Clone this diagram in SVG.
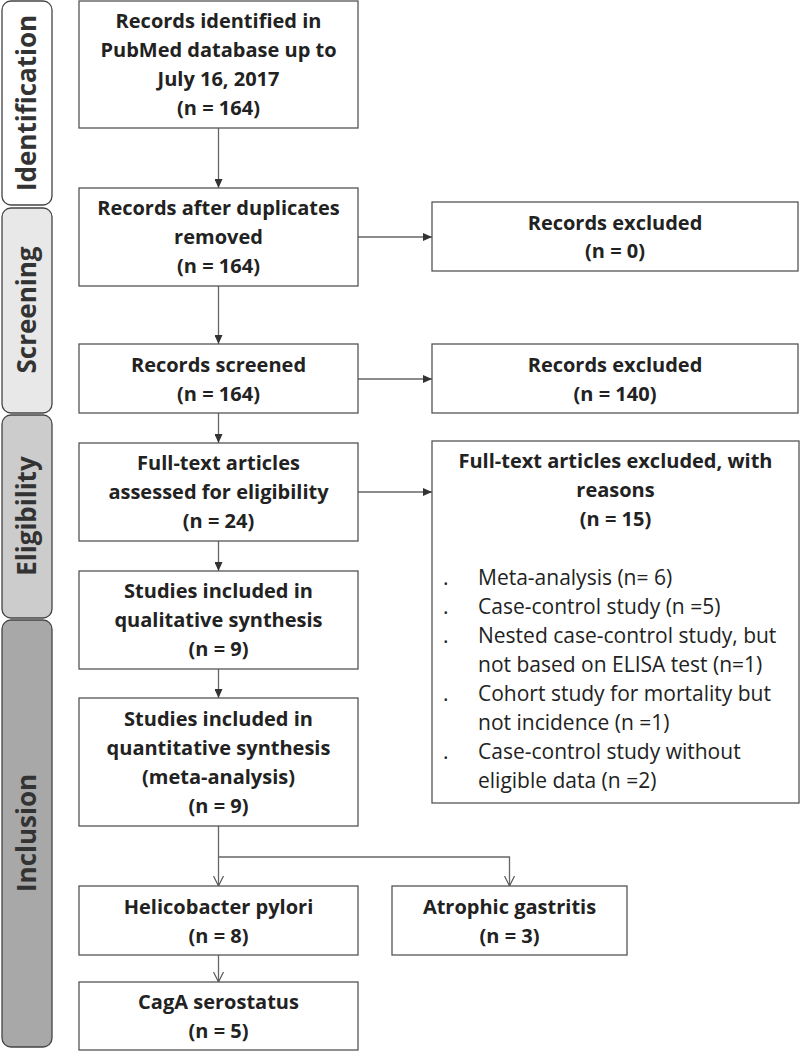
<svg xmlns="http://www.w3.org/2000/svg" width="800" height="1051" viewBox="0 0 800 1051">
<style>
.box{fill:#fff;stroke:#555;stroke-width:1.3}
.t{font-family:"Open Sans","Liberation Sans",sans-serif;font-weight:bold;font-size:20px;fill:#222;text-anchor:middle}
.r{font-family:"Open Sans","Liberation Sans",sans-serif;font-size:21px;fill:#222}
.side{stroke:#444;stroke-width:1.3}
.st{font-family:"Open Sans","Liberation Sans",sans-serif;font-weight:bold;font-size:26px;fill:#333;text-anchor:middle}
.ln{fill:none;stroke:#666;stroke-width:1.3}
</style>
<defs>
<marker id="af" markerWidth="10" markerHeight="8" refX="9" refY="4" orient="auto" markerUnits="userSpaceOnUse"><path d="M0,0 L9,4 L0,8 z" fill="#333"/></marker>
<marker id="ao" markerWidth="12" markerHeight="12" refX="10" refY="6" orient="auto" markerUnits="userSpaceOnUse"><path d="M0,1 L10,6 L0,11" fill="none" stroke="#555" stroke-width="1.2"/></marker>
</defs>
<rect width="800" height="1051" fill="#fff"/>

<g id="side-identification"><rect class="side" x="2" y="1" width="50" height="204" rx="9" fill="#ffffff"/><text class="st" transform="translate(36,103) rotate(-90)">Identification</text></g>
<g id="side-screening"><rect class="side" x="2" y="208" width="50" height="205" rx="9" fill="#e8e8e8"/><text class="st" transform="translate(36,310) rotate(-90)">Screening</text></g>
<g id="side-eligibility"><rect class="side" x="2" y="415" width="50" height="203" rx="9" fill="#cccccc"/><text class="st" transform="translate(36,516) rotate(-90)">Eligibility</text></g>
<g id="side-inclusion"><rect class="side" x="2" y="620" width="50" height="427" rx="9" fill="#a8a8a8"/><text class="st" transform="translate(36,833) rotate(-90)">Inclusion</text></g>

<g id="connectors">
<line class="ln" x1="218.5" y1="128" x2="218.5" y2="188" marker-end="url(#af)"/>
<line class="ln" x1="358" y1="237" x2="432" y2="237" marker-end="url(#af)"/>
<line class="ln" x1="218.5" y1="286" x2="218.5" y2="344" marker-end="url(#af)"/>
<line class="ln" x1="358" y1="379" x2="432" y2="379" marker-end="url(#af)"/>
<line class="ln" x1="218.5" y1="413" x2="218.5" y2="443" marker-end="url(#af)"/>
<line class="ln" x1="358" y1="492" x2="432" y2="492" marker-end="url(#af)"/>
<line class="ln" x1="218.5" y1="541" x2="218.5" y2="571" marker-end="url(#af)"/>
<line class="ln" x1="218.5" y1="669" x2="218.5" y2="698" marker-end="url(#af)"/>
<line class="ln" x1="218.5" y1="826" x2="218.5" y2="886" marker-end="url(#ao)"/>
<polyline class="ln" points="218.5,857 509.5,857 509.5,886" marker-end="url(#ao)"/>
<line class="ln" x1="218.5" y1="955" x2="218.5" y2="982" marker-end="url(#ao)"/>
</g>

<g id="n1"><rect class="box" x="79" y="1" width="279" height="127"/>
<text class="t" x="218.5" y="28">Records identified in</text>
<text class="t" x="218.5" y="57">PubMed database up to</text>
<text class="t" x="218.5" y="86">July 16, 2017</text>
<text class="t" x="218.5" y="115">(n = 164)</text></g>

<g id="n2"><rect class="box" x="79" y="188" width="279" height="98"/>
<text class="t" x="218.5" y="215">Records after duplicates</text>
<text class="t" x="218.5" y="244">removed</text>
<text class="t" x="218.5" y="273">(n = 164)</text></g>

<g id="x1"><rect class="box" x="432" y="202" width="366" height="69"/>
<text class="t" x="615" y="230">Records excluded</text>
<text class="t" x="615" y="258">(n = 0)</text></g>

<g id="n3"><rect class="box" x="79" y="344" width="279" height="69"/>
<text class="t" x="218.5" y="372">Records screened</text>
<text class="t" x="218.5" y="401">(n = 164)</text></g>

<g id="x2"><rect class="box" x="432" y="344" width="366" height="69"/>
<text class="t" x="615" y="372">Records excluded</text>
<text class="t" x="615" y="401">(n = 140)</text></g>

<g id="n4"><rect class="box" x="79" y="443" width="279" height="98"/>
<text class="t" x="218.5" y="470">Full-text articles</text>
<text class="t" x="218.5" y="499">assessed for eligibility</text>
<text class="t" x="218.5" y="528">(n = 24)</text></g>

<g id="x3"><rect class="box" x="432" y="441" width="367" height="362"/>
<text class="t" x="615.5" y="468">Full-text articles excluded, with</text>
<text class="t" x="615.5" y="497">reasons</text>
<text class="t" x="615.5" y="526">(n = 15)</text>
<g class="r">
<text x="443" y="585">.</text><text x="478" y="585">Meta-analysis (n= 6)</text>
<text x="443" y="614">.</text><text x="478" y="614">Case-control study (n =5)</text>
<text x="443" y="643">.</text><text x="478" y="643">Nested case-control study, but</text>
<text x="478" y="672">not based on ELISA test (n=1)</text>
<text x="443" y="701">.</text><text x="478" y="701">Cohort study for mortality but</text>
<text x="478" y="730">not incidence (n =1)</text>
<text x="443" y="759">.</text><text x="478" y="759">Case-control study without</text>
<text x="478" y="788">eligible data (n =2)</text>
</g></g>

<g id="n5"><rect class="box" x="79" y="571" width="279" height="98"/>
<text class="t" x="218.5" y="598">Studies included in</text>
<text class="t" x="218.5" y="627">qualitative synthesis</text>
<text class="t" x="218.5" y="656">(n = 9)</text></g>

<g id="n6"><rect class="box" x="79" y="698" width="279" height="128"/>
<text class="t" x="218.5" y="726">Studies included in</text>
<text class="t" x="218.5" y="755">quantitative synthesis</text>
<text class="t" x="218.5" y="784">(meta-analysis)</text>
<text class="t" x="218.5" y="813">(n = 9)</text></g>

<g id="n7"><rect class="box" x="79" y="886" width="279" height="69"/>
<text class="t" x="218.5" y="914">Helicobacter pylori</text>
<text class="t" x="218.5" y="943">(n = 8)</text></g>

<g id="n8"><rect class="box" x="392" y="886" width="235" height="69"/>
<text class="t" x="509.5" y="914">Atrophic gastritis</text>
<text class="t" x="509.5" y="943">(n = 3)</text></g>

<g id="n9"><rect class="box" x="79" y="982" width="279" height="68"/>
<text class="t" x="218.5" y="1009">CagA serostatus</text>
<text class="t" x="218.5" y="1038">(n = 5)</text></g>
</svg>
